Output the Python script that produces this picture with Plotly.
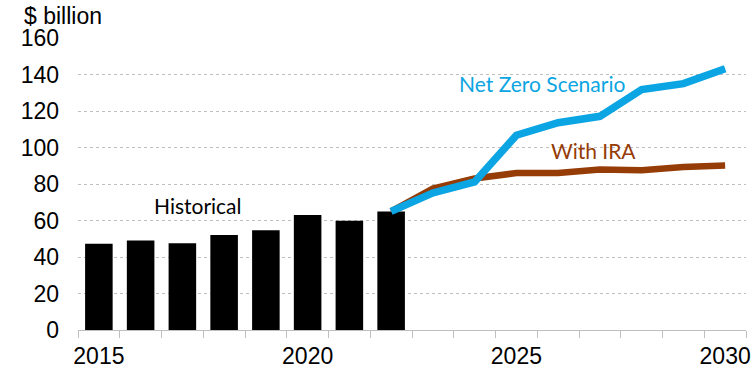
import plotly.graph_objects as go

# Historical spending (bars) and two projections (lines), $ billion
years = [str(y) for y in range(2015, 2031)]
hist_years = ["2015", "2016", "2017", "2018", "2019", "2020", "2021", "2022"]
hist_values = [47.3, 49.0, 47.5, 52.1, 54.6, 63.0, 59.9, 65.0]

proj_years = ["2022", "2023", "2024", "2025", "2026", "2027", "2028", "2029", "2030"]
with_ira = [65.0, 77.5, 83.0, 86.0, 86.0, 88.0, 87.5, 89.3, 90.2]
net_zero = [65.0, 75.1, 81.1, 106.7, 113.6, 117.1, 131.7, 135.0, 143.2]

tick_text = [y if int(y) % 5 == 0 else "" for y in years]

BLUE = "#0AA5E2"
BROWN = "#963C06"
GRID = "#BFBFBF"
AXIS_FONT = dict(family="Liberation Sans, Arial, sans-serif", size=23, color="black")
LABEL_FONT = "Lato, Carlito, Calibri, sans-serif"

fig = go.Figure()
fig.add_trace(go.Bar(x=hist_years, y=hist_values, marker=dict(color="black", line=dict(width=0)),
                     showlegend=False))
fig.add_trace(go.Scatter(x=proj_years, y=with_ira, mode="lines",
                         line=dict(color=BROWN, width=6.5), showlegend=False))
fig.add_trace(go.Scatter(x=proj_years, y=net_zero, mode="lines",
                         line=dict(color=BLUE, width=7.5), showlegend=False))

fig.update_layout(
    width=754, height=368,
    margin=dict(l=78, r=8, t=38, b=38),
    paper_bgcolor="white", plot_bgcolor="white",
    bargap=0.34,
    xaxis=dict(
        type="category", categoryorder="array", categoryarray=years,
        range=[-0.5, 15.5], automargin=False,
        tickmode="array", tickvals=years, ticktext=tick_text, tickangle=0,
        tickson="boundaries", ticks="outside", ticklen=7, tickcolor=GRID, tickwidth=1,
        ticklabelstandoff=5,
        showline=True, linecolor=GRID, linewidth=1,
        showgrid=False, tickfont=AXIS_FONT,
    ),
    yaxis=dict(
        range=[0, 160], tickmode="array", tickvals=list(range(0, 161, 20)),
        automargin=False,
        showgrid=True, gridcolor=GRID, griddash="dot", gridwidth=1,
        zeroline=False, showline=False, ticks="", ticklabelstandoff=18,
        tickfont=AXIS_FONT,
    ),
    annotations=[
        dict(text="$ billion", xref="paper", yref="paper", x=0, y=1, xshift=-56, yshift=22,
             xanchor="left", yanchor="middle", showarrow=False, font=AXIS_FONT),
        dict(text="Net Zero Scenario", x=10.62, y=135.2, xref="x", yref="y", showarrow=False,
             font=dict(family=LABEL_FONT, size=21, color=BLUE)),
        dict(text="With IRA", x=11.84, y=98.5, xref="x", yref="y", showarrow=False,
             font=dict(family=LABEL_FONT, size=21, color=BROWN)),
        dict(text="Historical", x=2.38, y=68, xref="x", yref="y", showarrow=False,
             font=dict(family=LABEL_FONT, size=21, color="black")),
    ],
)

fig.write_html("out.html")
